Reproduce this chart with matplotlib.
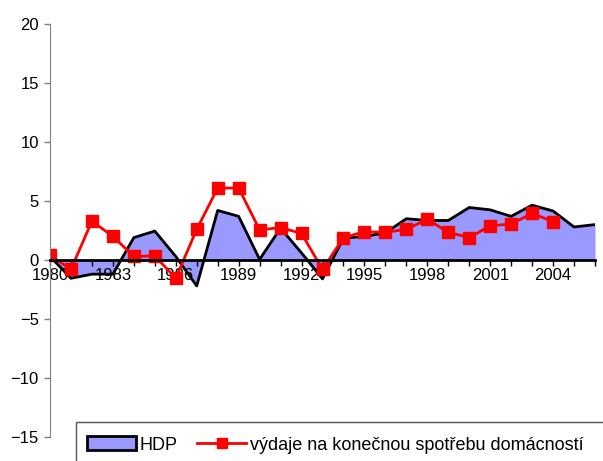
import numpy as np
import matplotlib.pyplot as plt
from matplotlib.patches import Patch, Rectangle
from matplotlib.lines import Line2D

plt.rcParams['font.family'] = ['Liberation Sans', 'DejaVu Sans']

years = list(range(1980, 2007))
hdp = [0.3, -1.55, -1.2, -1.2, 1.9, 2.45, 0.3, -2.2, 4.2, 3.7, 0.05, 2.7, 0.6,
       -1.6, 1.85, 2.0, 2.3, 3.5, 3.35, 3.35, 4.45, 4.25, 3.7, 4.65, 4.15, 2.8, 3.0]
vydaje_years = list(range(1980, 2005))
vydaje = [0.4, -0.8, 3.3, 2.0, 0.3, 0.35, -1.55, 2.6, 6.1, 6.1, 2.55, 2.75, 2.25,
          -0.8, 1.9, 2.4, 2.35, 2.6, 3.45, 2.35, 1.9, 2.9, 3.05, 3.95, 3.25]
label_years = [1980, 1983, 1986, 1989, 1992, 1995, 1998, 2001, 2004]

fig = plt.figure(figsize=(6.03, 4.61), dpi=100)
ax = fig.add_axes([50/603, 1-437/461, 545/603, 413/461])

ax.fill_between(years, hdp, 0, color='#9999ff', lw=0)
ax.plot(years, hdp, color='black', lw=2)
ax.plot(vydaje_years, vydaje, color='red', lw=2, marker='s', ms=8.5)

ax.set_xlim(1980, 2006)
ax.set_ylim(-15, 20)
ax.set_yticks(range(-15, 21, 5))
ax.set_xticks(years)
ax.set_xticklabels([str(y) if y in label_years else '' for y in years])

ax.spines['top'].set_visible(False)
ax.spines['right'].set_visible(False)
ax.spines['bottom'].set_position(('data', 0))
ax.spines['bottom'].set_linewidth(2)
ax.spines['left'].set_color('#808080')
ax.tick_params(axis='x', length=4, width=1, labelsize=12, pad=2)
ax.tick_params(axis='y', length=4, width=1, color='#808080', labelsize=12, pad=4)

# legend box runs off the right and bottom edge, as in the original
fig.patches.append(Rectangle((76/603, -0.05), 1, 0.05 + 1 - 422/461,
                             transform=fig.transFigure, facecolor='white',
                             edgecolor='#555555', lw=1, zorder=5))
handles = [Patch(facecolor='#9999ff', edgecolor='black', lw=2),
           Line2D([], [], color='red', lw=2, marker='s', ms=6.5)]
leg = fig.legend(handles, ['HDP', 'výdaje na konečnou spotřebu domácností'],
                 loc='center left', bbox_to_anchor=(87/603, 1-445/461), ncol=2,
                 fontsize=13, frameon=False, handlelength=2.7, handleheight=0.8,
                 handletextpad=0.2, columnspacing=1.1, borderpad=0,
                 borderaxespad=0)
leg.set_zorder(6)

fig.savefig('out.png', dpi=100)
